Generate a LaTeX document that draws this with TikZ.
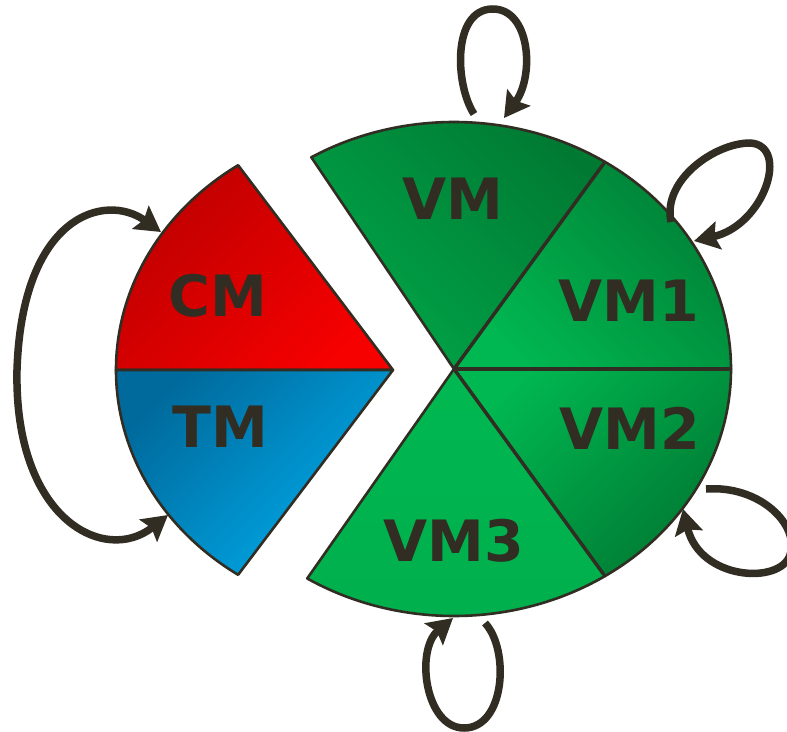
\documentclass[tikz,border=0pt]{standalone}
\usepackage{fontspec}
\newfontfamily\labelfont{DejaVu Sans}
\usetikzlibrary{arrows.meta}
\definecolor{ink}{HTML}{322D22}
\definecolor{cmdark}{HTML}{BE0000}
\definecolor{cmlight}{HTML}{F60000}
\definecolor{tmdark}{HTML}{006A9C}
\definecolor{tmlight}{HTML}{00AAEA}
\definecolor{gdark}{HTML}{007A33}
\definecolor{gmid}{HTML}{00A548}
\definecolor{glight}{HTML}{00B851}
\begin{document}
\begin{tikzpicture}[x=1bp,y=-1bp,
  sector/.style={draw=ink, line width=2.6bp, line join=round},
  divline/.style={draw=ink, line width=3.4bp},
  lbl/.style={font=\labelfont\bfseries\fontsize{57bp}{60bp}\selectfont, text=ink, inner sep=0pt},
  tip/.style={},
  loopline/.style={draw=ink, line width=7.5bp, -{Stealth[length=25bp,width=28bp,inset=4bp]}},
  biloop/.style={draw=ink, line width=7.5bp, {Stealth[length=25bp,width=28bp,inset=4bp]}-{Stealth[length=25bp,width=28bp,inset=4bp]}},
]
\useasboundingbox (0,0) rectangle (787,732);
\fill[white] (0,0) rectangle (787,732);
\clip (0,0) rectangle (787,732);

\coordinate (R) at (454,369);
\coordinate (L) at (393,370);

% right pie
\shadedraw[sector, top color=gdark, bottom color=gmid, shading angle=-45]
  (R) -- +(-121:277 and 247) arc[start angle=-121, end angle=-57, x radius=277, y radius=247] -- cycle;
\shadedraw[sector, top color=gdark!90!glight, bottom color=glight, shading angle=-45]
  (R) -- +(-57:277 and 247) arc[start angle=-57, end angle=0, x radius=277, y radius=247] -- cycle;
\shadedraw[sector, top color=glight, bottom color=gdark, shading angle=45]
  (R) -- +(0:277 and 247) arc[start angle=0, end angle=57, x radius=277, y radius=247] -- cycle;
\shadedraw[sector, top color=glight, bottom color=glight!85!gdark, shading angle=0]
  (R) -- +(57:277 and 247) arc[start angle=57, end angle=122, x radius=277, y radius=247] -- cycle;
\draw[divline] (R) -- +(-57:275 and 245);
\draw[divline] (R) -- +(0:275 and 245);
\draw[divline] (R) -- +(57:275 and 245);

% left pie
\shadedraw[sector, top color=cmdark, bottom color=cmlight, shading angle=45]
  (L) -- +(-124:277 and 247) arc[start angle=-124, end angle=-180, x radius=277, y radius=247] -- cycle;
\shadedraw[sector, top color=tmdark, bottom color=tmlight, shading angle=45]
  (L) -- +(-180:277 and 247) arc[start angle=-180, end angle=-236, x radius=277, y radius=247] -- cycle;

% labels
\node[lbl] (cm) at (218,296) {CM};
\node[lbl] (tm) at (220,427) {TM};
\node[lbl] (vm) at (453,199) {VM};
\node[lbl] (vm1) at (629,301) {VM1};
\node[lbl] (vm2) at (630,428) {VM2};
\node[lbl] (vm3) at (454,541) {VM3};

% loops
\coordinate (a1) at (474,114); \coordinate (b1) at (504,118);
\draw[loopline] (a1) .. controls (455,85) and (452,10) .. (492,9) .. controls (530,8) and (535,75) .. (b1);

\coordinate (a2) at (671,222); \coordinate (b2) at (694,241);
\draw[loopline] (a2) .. controls (662,180) and (715,143) .. (750,143) .. controls (790,145) and (765,225) .. (b2);

\coordinate (a3) at (706,489); \coordinate (b3) at (683,509);
\draw[loopline] (a3) .. controls (760,485) and (800,525) .. (790,555) .. controls (780,585) and (700,580) .. (b3);

\coordinate (a4) at (485,623); \coordinate (b4) at (453,618);
\draw[loopline] (a4) .. controls (510,650) and (505,728) .. (464,728) .. controls (425,728) and (415,650) .. (b4);

\coordinate (a5) at (161,232); \coordinate (b5) at (168,515);
\draw[biloop] (a5) .. controls (105,192) and (22,215) .. (17,370) .. controls (14,520) and (105,565) .. (b5);
\end{tikzpicture}
\end{document}
